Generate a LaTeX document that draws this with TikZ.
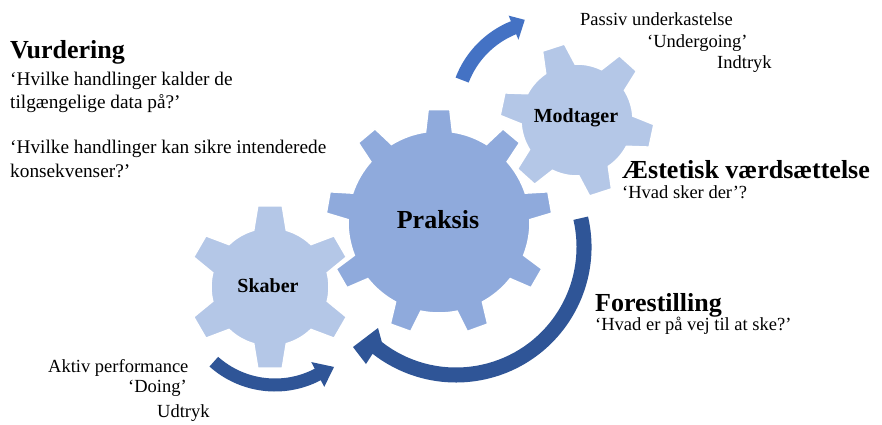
\documentclass[tikz,border=0pt]{standalone}
\usepackage{fontspec}
\setmainfont{Liberation Serif}
\definecolor{gearDark}{HTML}{8FAADC}
\definecolor{gearLight}{HTML}{B4C7E7}
\definecolor{arrDark}{HTML}{2F5597}
\definecolor{arrMid}{HTML}{4472C4}
\newcommand\gearshape[9]{%
  \pgfmathsetmacro\gs{360/#5}%
  \pgfmathtruncatemacro\gn{#5-1}%
  \begin{scope}[shift={(#1,#2)}]
    \filldraw[#9] ({#6-#7}:#3) \foreach \k in {0,...,\gn}{
      -- ({#6+\k*\gs-#7}:#3) -- ({#6+\k*\gs-#8}:#4) -- ({#6+\k*\gs+#8}:#4) -- ({#6+\k*\gs+#7}:#3)
      arc[start angle={#6+\k*\gs+#7}, end angle={#6+(\k+1)*\gs-#7}, radius=#3]} -- cycle;
  \end{scope}}
\begin{document}
\begin{tikzpicture}[x=1pt,y=-1pt,
  lightgear/.style={fill=gearLight, draw=white, line width=1.5pt},
  darkgear/.style={fill=gearDark, draw=white, line width=1.5pt},
  txt/.style={anchor=base west, inner sep=0pt, font=\fontsize{18.5}{22}\selectfont},
  txtv/.style={anchor=base west, inner sep=0pt, font=\fontsize{19.3}{22}\selectfont},
  headtxt/.style={anchor=base west, inner sep=0pt, font=\bfseries\fontsize{26}{30}\selectfont},
  gearbig/.style={inner sep=0pt, font=\bfseries\fontsize{26}{30}\selectfont},
  gearsmall/.style={inner sep=0pt, font=\bfseries\fontsize{20}{24}\selectfont}]
\useasboundingbox (0,0) rectangle (882,424);
\fill[white] (0,0) rectangle (882,424);

% gears
\gearshape{577}{120}{56}{77}{6}{-108}{16}{8.6}{lightgear}
\gearshape{270}{287}{59}{82}{6}{-90}{16}{8.6}{lightgear}
\gearshape{439}{222}{91}{113}{9}{-90}{8.5}{5.5}{darkgear}

% top arrow
\begin{scope}[shift={(548,113)}]
  \fill[arrMid] (201:99) arc[start angle=201, end angle=248, radius=99]
    -- (248:105) -- (256:96) -- (248:79) -- (248:85)
    arc[start angle=248, end angle=201, radius=85] -- cycle;
\end{scope}
% big arrow
\begin{scope}[shift={(456,247)}]
  \fill[arrDark] (-13:135.5) arc[start angle=-13, end angle=128, radius=135.5]
    -- (-90,117) -- (-103,100) -- (-78,81) -- (128:120.5)
    arc[start angle=128, end angle=-13, radius=120.5] -- cycle;
\end{scope}
% bottom arrow
\begin{scope}[shift={(275,293)}]
  \fill[arrDark] (131.7:98.5) arc[start angle=131.7, end angle=62.3, radius=98.5]
    -- (62.3:106) -- (51.4:94.6) -- (62.3:78) -- (62.3:85.5)
    arc[start angle=62.3, end angle=131.7, radius=85.5] -- cycle;
\end{scope}

% gear labels
\node[gearbig] (praksis) at (438,220) {Praksis};
\node[gearsmall] (modtager) at (576,118) {Modtager};
\node[gearsmall] (skaber) at (268,286) {Skaber};

% Vurdering
\node[headtxt] (vurd) at (10,58) {Vurdering};
\node[txtv] (v1) at (10,85) {‘Hvilke handlinger kalder de};
\node[txtv] (v2) at (10,108) {tilgængelige data på?’};
\node[txtv] (v3) at (10,153) {‘Hvilke handlinger kan sikre intenderede};
\node[txtv] (v4) at (10,177) {konsekvenser?’};

% Passiv
\node[txt] (p1) at (580,25) {Passiv underkastelse};
\node[txt] (p2) at (647,47) {‘Undergoing’};
\node[txt] (p3) at (717,68) {Indtryk};

% Aestetisk
\node[headtxt] (aest) at (622,178) {Æstetisk værdsættelse};
\node[txt] (a1) at (622,198) {‘Hvad sker der’?};

% Forestilling
\node[headtxt] (fore) at (595,311) {Forestilling};
\node[txt] (f1) at (595,330) {‘Hvad er på vej til at ske?’};

% Aktiv
\node[txt] (k1) at (48,372) {Aktiv performance};
\node[txt] (k2) at (128,392) {‘Doing’};
\node[txt] (k3) at (157,417) {Udtryk};
\end{tikzpicture}
\end{document}
